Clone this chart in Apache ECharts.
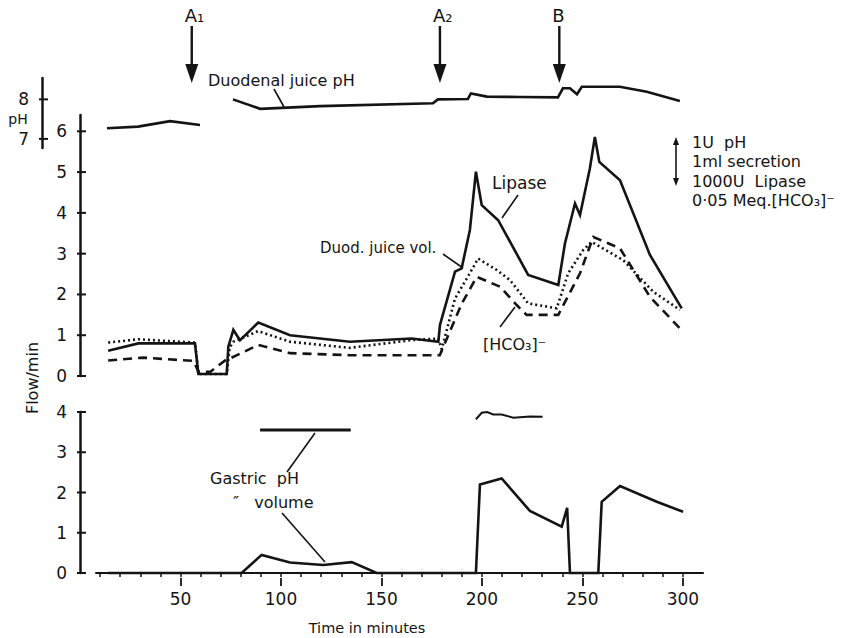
<!DOCTYPE html>
<html><head><meta charset="utf-8">
<script src="https://cdn.jsdelivr.net/npm/echarts@6/dist/echarts.min.js"></script>
<style>html,body{margin:0;padding:0;background:#fff}#c{width:842px;height:638px}</style>
</head><body><div id="c"></div>
<script>
// ---------- data ----------
const duodPhTime1 = [13.4, 28.9, 44.8, 59.7];
const duodPh1     = [7.27, 7.31, 7.45, 7.35];
const duodPhTime2 = [76.1, 89.6, 119.4, 175.6, 178.1, 193, 194.5, 202.5, 218.9, 237.8, 240.3, 243.8, 247.3, 249.7, 268.6, 282, 298.5];
const duodPh2     = [8.0, 7.76, 7.83, 7.90, 8.0, 8.01, 8.15, 8.07, 8.06, 8.05, 8.28, 8.28, 8.13, 8.32, 8.32, 8.19, 7.96];

const lipaseTime = [14, 29, 57.2, 58.9, 73, 73.8, 76.3, 79.6, 88.7, 104.5, 134.3, 165, 178.3, 179.1, 186.6, 189.9, 194, 197, 199.9, 208.1, 223, 238, 241.3, 246.3, 248.8, 253.7, 256.2, 258.4, 268.7, 283.6, 299.4];
const lipase     = [0.62, 0.80, 0.80, 0.05, 0.05, 0.72, 1.13, 0.88, 1.31, 1.00, 0.84, 0.92, 0.84, 1.25, 2.56, 2.64, 3.58, 5.01, 4.19, 3.82, 2.48, 2.23, 3.25, 4.23, 3.95, 5.09, 5.86, 5.25, 4.80, 2.97, 1.66];

const volTime = [14, 29, 57.2, 58.9, 73, 74.5, 76.3, 88.6, 104.5, 134.3, 165, 178.3, 180, 186.6, 194.9, 198.1, 207.3, 214, 223, 237.2, 242.9, 250.4, 254.6, 270.3, 285.2, 298.5];
const duodVol = [0.82, 0.90, 0.82, 0.05, 0.05, 0.70, 0.84, 1.10, 0.84, 0.69, 0.88, 0.92, 0.66, 1.90, 2.60, 2.88, 2.60, 2.35, 1.78, 1.66, 2.52, 3.09, 3.29, 2.84, 2.07, 1.62];

const hco3Time = [14, 31.5, 56.4, 59, 64.7, 73, 74.6, 88.7, 104.5, 134.3, 165, 179, 190, 197.4, 209, 217.3, 222.2, 238, 248.8, 255.4, 268.7, 283.6, 298.5];
const hco3     = [0.38, 0.45, 0.37, 0.10, 0.10, 0.41, 0.43, 0.76, 0.56, 0.51, 0.51, 0.51, 1.78, 2.43, 2.19, 1.74, 1.50, 1.50, 2.52, 3.41, 3.13, 1.94, 1.17];

const gastricVolTime = [14, 80.4, 90.4, 104.5, 121, 135.2, 147.6, 197, 199, 209.8, 223.9, 239.7, 242.4, 243.8, 257.9, 259.6, 268.7, 287, 300.1];
const gastricVol     = [0, 0, 0.45, 0.26, 0.20, 0.27, 0, 0, 2.20, 2.35, 1.54, 1.15, 1.62, 0, 0, 1.77, 2.16, 1.77, 1.52];

const gastricPhTime1 = [89.6, 134.7];
const gastricPh1     = [3.55, 3.55];
const gastricPhTime2 = [197, 199.9, 202.6, 205.6, 209.8, 215.6, 223.9, 230.2];
const gastricPh2     = [3.82, 3.98, 4.0, 3.94, 3.94, 3.86, 3.89, 3.88];

const xMinorTicks = [10, 20, 30, 40, 50, 60, 70, 80, 90, 100, 110, 120, 130, 140, 150, 160, 170, 180, 190, 200, 210, 220, 230, 240, 250, 260, 270, 280, 290, 300];
const xLabels = [50, 100, 150, 200, 250, 300];
const flowTicks = [0, 1, 2, 3, 4, 5, 6];
const gastricTicks = [0, 1, 2, 3, 4];
const phTicks = [7, 8];

const events = [{name: 'A₁', time: 55.6}, {name: 'A₂', time: 179.1}, {name: 'B', time: 238.5}];
const scaleLegend = ['1U  pH', '1ml secretion', '1000U  Lipase', '0·05 Meq.[HCO₃]⁻'];

// ---------- chart ----------
const INK = '#141414';
const FONT = "'DejaVu Sans', sans-serif";
const pair = (xs, ys) => xs.map((x, i) => [x, ys[i]]);

const chart = echarts.init(document.getElementById('c'), null, {renderer: 'svg'});

const axisLabelStyle = {color: INK, fontFamily: FONT, fontSize: 17};
const hiddenX = (g) => ({gridIndex: g, type: 'value', min: 8, max: 310, show: false});

function lineSeries(name, xi, yi, data, width, type) {
  return {
    name, type: 'line', xAxisIndex: xi, yAxisIndex: yi, data,
    symbol: 'none', clip: false, silent: true,
    lineStyle: {color: INK, width, type: type || 'solid', cap: 'butt', join: 'miter'}
  };
}

function yAxisDef(gi, min, max, off, ticks) {
  return {
    gridIndex: gi, type: 'value', min, max, offset: off,
    axisLine: {show: true, lineStyle: {color: INK, width: 2.5}},
    axisTick: {show: false},
    axisLabel: Object.assign({customValues: ticks, margin: 13}, axisLabelStyle),
    splitLine: {show: false}
  };
}

const option = {
  animation: false,
  backgroundColor: '#fff',
  grid: [
    {left: 96.1, width: 606.9, top: 78, height: 70},
    {left: 96.1, width: 606.9, top: 115, height: 261},
    {left: 96.1, width: 606.9, top: 412, height: 161}
  ],
  xAxis: [
    hiddenX(0),
    hiddenX(1),
    {gridIndex: 2, type: 'value', position: 'bottom', min: 8, max: 310, offset: 5,
     axisLine: {show: true, lineStyle: {color: INK, width: 2.2}},
     axisTick: {show: true, customValues: xMinorTicks, length: 4, lineStyle: {color: INK, width: 1.5}},
     axisLabel: {show: false}, splitLine: {show: false}},
    {gridIndex: 2, type: 'value', position: 'bottom', min: 8, max: 310, offset: 5,
     axisLine: {show: false},
     axisTick: {show: true, customValues: xLabels, length: 8, lineStyle: {color: INK, width: 1.8}},
     axisLabel: Object.assign({customValues: xLabels, margin: 12}, axisLabelStyle),
     splitLine: {show: false}}
  ],
  yAxis: [
    yAxisDef(0, 6.77, 8.54, 54, phTicks),
    yAxisDef(1, 0, 6.4, 16, flowTicks),
    yAxisDef(2, 0, 4, 16, gastricTicks)
  ],
  series: [
    lineSeries('Duodenal juice pH', 0, 0, pair(duodPhTime1, duodPh1), 2.6),
    lineSeries('Duodenal juice pH ', 0, 0, pair(duodPhTime2, duodPh2), 2.6),
    lineSeries('Lipase', 1, 1, pair(lipaseTime, lipase), 2.6),
    lineSeries('Duod. juice vol.', 1, 1, pair(volTime, duodVol), 2.6, [2, 3]),
    lineSeries('[HCO₃]⁻', 1, 1, pair(hco3Time, hco3), 2.6, [9, 6]),
    lineSeries('Gastric volume', 2, 2, pair(gastricVolTime, gastricVol), 2.6),
    lineSeries('Gastric pH', 2, 2, pair(gastricPhTime1, gastricPh1), 3),
    lineSeries('Gastric pH ', 2, 2, pair(gastricPhTime2, gastricPh2), 2)
  ]
};
chart.setOption(option);

// ---------- annotations ----------
function txt(x, y, text, size, align, extra) {
  return Object.assign({
    type: 'text', x, y, silent: true,
    style: {text, fill: INK, font: size + 'px ' + FONT,
            align: align || 'left', verticalAlign: 'middle',
            textAlign: align || 'left', textVerticalAlign: 'middle'}
  }, extra || {});
}
function seg(x1, y1, x2, y2, w) {
  return {type: 'line', silent: true, shape: {x1, y1, x2, y2}, style: {stroke: INK, lineWidth: w || 1.6}};
}

const g = [];
events.forEach(ev => {
  const x = chart.convertToPixel({xAxisIndex: 1}, ev.time);
  g.push(seg(x, 26, x, 70, 2.4));
  g.push({type: 'polygon', silent: true, shape: {points: [[x - 6.5, 64], [x + 6.5, 64], [x, 83]]}, style: {fill: INK}});
  g.push(txt(x - 7, 15, ev.name, 18, 'left'));
});

// y-axis tick marks crossing the axis line
const yTickSets = [[0, phTicks], [1, flowTicks], [2, gastricTicks]];
const axisXs = [42, 80, 80];
yTickSets.forEach(([yi, ticks], k) => {
  ticks.forEach(v => {
    const y = chart.convertToPixel({yAxisIndex: yi}, v);
    g.push(seg(axisXs[k] - 3, y, axisXs[k] + 6, y, 2));
  });
});

// series labels + leader lines
g.push(txt(208, 80, 'Duodenal juice pH', 16));
g.push(seg(274, 89, 284, 107));
g.push(txt(492, 183, 'Lipase', 17));
g.push(seg(518, 195, 502, 218));
g.push(txt(320, 248, 'Duod. juice vol.', 15));
g.push(seg(443, 254, 463, 268));
g.push(txt(483, 344, '[HCO₃]⁻', 16));
g.push(seg(500, 327, 515, 307));
g.push(txt(210, 478, 'Gastric  pH', 16));
g.push(seg(287, 472, 315, 433));
g.push(txt(233, 502, '″   volume', 16));
g.push(seg(282, 513, 325, 562));

// axis captions
g.push(txt(18, 119, 'pH', 14, 'center'));
g.push(txt(32, 378, 'Flow/min', 16, 'center', {rotation: Math.PI / 2}));
g.push(txt(367, 628, 'Time in minutes', 14.5, 'center'));

// scale legend
[142, 161, 181, 200].forEach((y, i) => g.push(txt(692, y, scaleLegend[i], 16)));
g.push(seg(676, 142, 676, 181, 1.6));
g.push({type: 'polygon', silent: true, shape: {points: [[673, 145], [679, 145], [676, 137]]}, style: {fill: INK}});
g.push({type: 'polygon', silent: true, shape: {points: [[673, 178], [679, 178], [676, 186]]}, style: {fill: INK}});

chart.setOption({graphic: g});
</script>
</body></html>
